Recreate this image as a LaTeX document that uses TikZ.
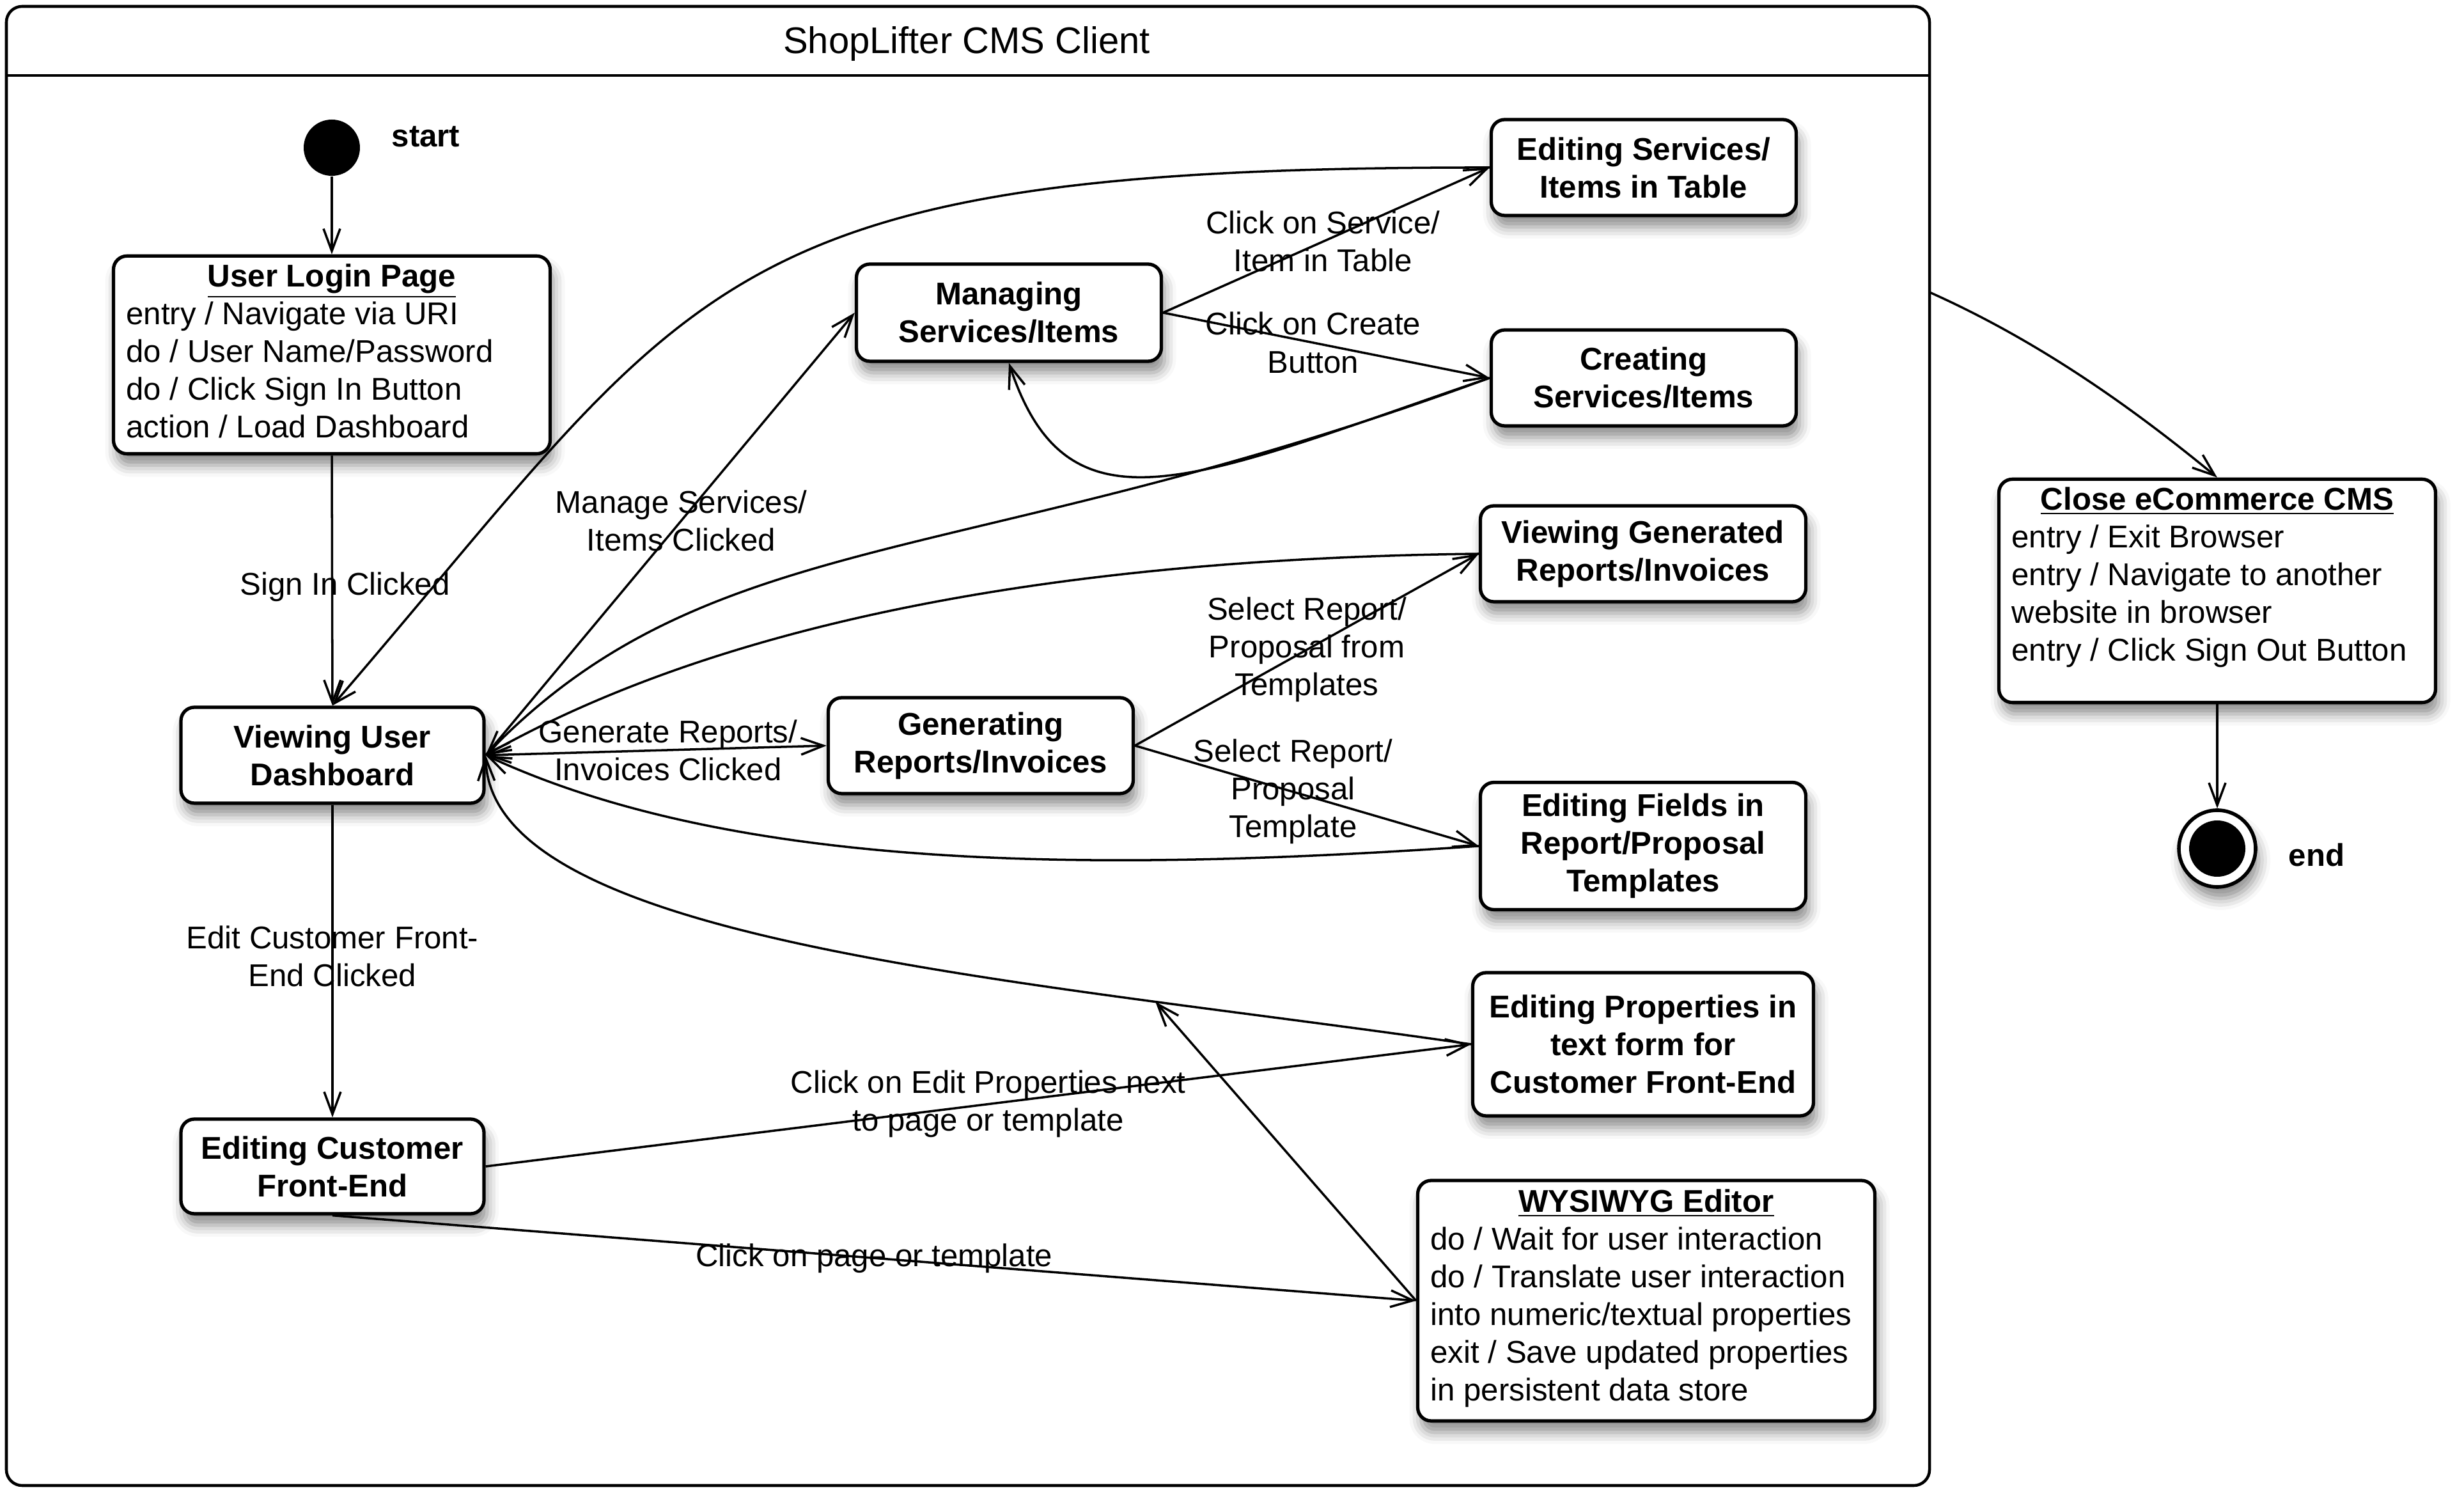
\documentclass[tikz,border=0pt]{standalone}
\usepackage{fontspec}
\setmainfont{Liberation Sans}
\usetikzlibrary{arrows.meta, shadows.blur, calc}
\AtBeginDocument{\fontsize{14}{16.8}\selectfont}
\tikzset{
    basebox/.style={rectangle, rounded corners=6pt, draw=black, line width=1.5pt, fill=white,
        blur shadow={shadow xshift=0.5mm, shadow yshift=-1.8mm, shadow blur radius=1.8mm, shadow opacity=45}},
    statebox/.style={basebox, align=center, font=\bfseries, inner sep=2pt},
    actbox/.style={basebox, inner xsep=0.2cm, inner ysep=2pt},
    trans/.style={-{Straight Barb[length=3.5mm, width=2.6mm]}, line width=1pt},
    bitrans/.style={{Straight Barb[length=3.5mm, width=2.6mm]}-{Straight Barb[length=3.5mm, width=2.6mm]}, line width=1pt},
    guard/.style={align=center},
}

\begin{document}
\begin{tikzpicture}
    \useasboundingbox (0,0) rectangle (38.54,23.29);

    % Client frame
    \draw[line width=1.3pt, rounded corners=7pt] (0.10,0.06) rectangle (30.18,23.19);
    \draw[line width=1.3pt] (0.10,22.11) -- (30.18,22.11);
    \node[font=\fontsize{16.5}{19}\selectfont] (title) at (15.12,22.60) {ShopLifter CMS Client};
    \coordinate (frameexit) at (30.18,18.72);

    % Start
    \node[circle, fill=black, minimum size=0.88cm, inner sep=0pt] (init) at (5.19,20.98) {};
    \node[font=\bfseries, anchor=west, inner sep=0pt] (initlbl) at (6.12,21.15) {start};

    % Left column
    \node[actbox, minimum width=6.83cm, minimum height=3.05cm] (login) at (5.19,17.74) {%
        \begin{tabular}{@{}l@{}}
        \makebox[6.43cm]{\bfseries\underline{User Login Page}}\\
        entry / Navigate via URI\\
        do / User Name/Password\\
        do / Click Sign In Button\\
        action / Load Dashboard
        \end{tabular}};
    \node[statebox, minimum width=4.74cm, minimum height=1.50cm] (dash) at (5.20,11.48) {Viewing User\\Dashboard};
    \node[statebox, minimum width=4.74cm, minimum height=1.48cm] (custfe) at (5.20,5.05) {Editing Customer\\Front-End};

    % Middle column
    \node[statebox, minimum width=4.77cm, minimum height=1.52cm] (manage) at (15.78,18.40) {Managing\\Services/Items};
    \node[statebox, minimum width=4.77cm, minimum height=1.50cm] (genrep) at (15.34,11.63) {Generating\\Reports/Invoices};

    % Right column
    \node[statebox, minimum width=4.77cm, minimum height=1.50cm] (edittable) at (25.71,20.67) {Editing Services/\\Items in Table};
    \node[statebox, minimum width=4.77cm, minimum height=1.50cm] (create) at (25.71,17.38) {Creating\\Services/Items};
    \node[statebox, minimum width=5.09cm, minimum height=1.50cm] (viewrep) at (25.70,14.63) {Viewing Generated\\Reports/Invoices};
    \node[statebox, minimum width=5.09cm, minimum height=1.99cm] (editfields) at (25.70,10.06) {Editing Fields in\\Report/Proposal\\Templates};
    \node[statebox, minimum width=5.33cm, minimum height=2.24cm] (editprops) at (25.70,6.96) {Editing Properties in\\text form for\\Customer Front-End};
    \node[actbox, minimum width=7.15cm, minimum height=3.76cm] (wysiwyg) at (25.75,2.95) {%
        \begin{tabular}{@{}l@{}}
        \makebox[6.75cm]{\bfseries\underline{WYSIWYG Editor}}\\
        do / Wait for user interaction\\
        do / Translate user interaction\\
        into numeric/textual properties\\
        exit / Save updated properties\\
        in persistent data store\\[0.05cm]
        \end{tabular}};

    % Outside the client
    \node[actbox, minimum width=6.83cm, minimum height=3.34cm] (close) at (34.68,14.05) {%
        \begin{tabular}{@{}l@{}}
        \makebox[6.43cm]{\bfseries\underline{Close eCommerce CMS}}\\
        entry / Exit Browser\\
        entry / Navigate to another\\
        website in browser\\
        entry / Click Sign Out Button\\[0.4cm]
        \end{tabular}};
    \node[circle, draw=black, line width=1.6pt, fill=white, minimum size=1.2cm, inner sep=0pt,
        blur shadow={shadow xshift=0.5mm, shadow yshift=-1.8mm, shadow blur radius=1.8mm, shadow opacity=45},
        path picture={\fill[black] (path picture bounding box.center) circle (0.44cm);}] (final) at (34.68,10.02) {};
    \node[font=\bfseries, anchor=west, inner sep=0pt] (finallbl) at (35.79,9.92) {end};

    % Transitions
    \draw[trans] (init) -- (login.north);
    \draw[trans] (login.south) -- node[guard, xshift=0.2cm, yshift=-0.1cm] (lblsign) {Sign In Clicked} (dash.north);
    \draw[trans] (dash.south) -- node[guard, yshift=0.08cm] (lbledit) {Edit Customer Front-\\End Clicked} (custfe.north);
    \draw[trans] (dash.east) -- node[guard, pos=0.53] (lblmanage) {Manage Services/\\Items Clicked} (manage.west);
    \draw[trans] (manage.east) -- node[guard, pos=0.49] (lblservice) {Click on Service/\\Item in Table} (edittable.west);
    \draw[trans] (manage.east) -- node[guard, pos=0.46] (lblcreate) {Click on Create\\Button} (create.west);
    \draw[trans] (edittable.west) .. controls (11.06,20.68) and (10.96,18.94) .. (dash.north);
    \draw[trans] (create.west) .. controls (18.68,15.80) and (16.71,14.80) .. (manage.south);
    \draw[trans] (create.west) .. controls (15.04,14.34) and (11.11,15.11) .. (dash.east);
    \draw[bitrans] (dash.east) -- node[guard, pos=0.535] (lblgen) {Generate Reports/\\Invoices Clicked} (genrep.west);
    \draw[trans] (genrep.east) -- node[guard, pos=0.5] (lblview) {Select Report/\\Proposal from\\Templates} (viewrep.west);
    \draw[trans] (genrep.east) -- node[guard, pos=0.46] (lblfields) {Select Report/\\Proposal\\Template} (editfields.west);
    \draw[trans] (viewrep.west) .. controls (17.01,14.56) and (11.55,13.70) .. (dash.east);
    \draw[trans] (editfields.west) .. controls (17.21,9.65) and (11.55,9.65) .. (dash.east);
    \draw[trans] (editprops.west) .. controls (15.98,7.98) and (7.67,8.54) .. coordinate[pos=0.23] (hit) (dash.east);
    \draw[trans] (custfe.east) -- node[guard, pos=0.51] (lblprops) {Click on Edit Properties next\\to page or template} (editprops.west);
    \draw[trans] (custfe.south) -- node[guard, pos=0.5] (lblpage) {Click on page or template} (wysiwyg.west);
    \draw[trans] (wysiwyg.west) -- (hit);
    \draw[trans] (frameexit) .. controls (31.95,17.93) and (33.43,16.85) .. (close.north);
    \draw[trans] (close.south) -- (final);
\end{tikzpicture}
\end{document}
